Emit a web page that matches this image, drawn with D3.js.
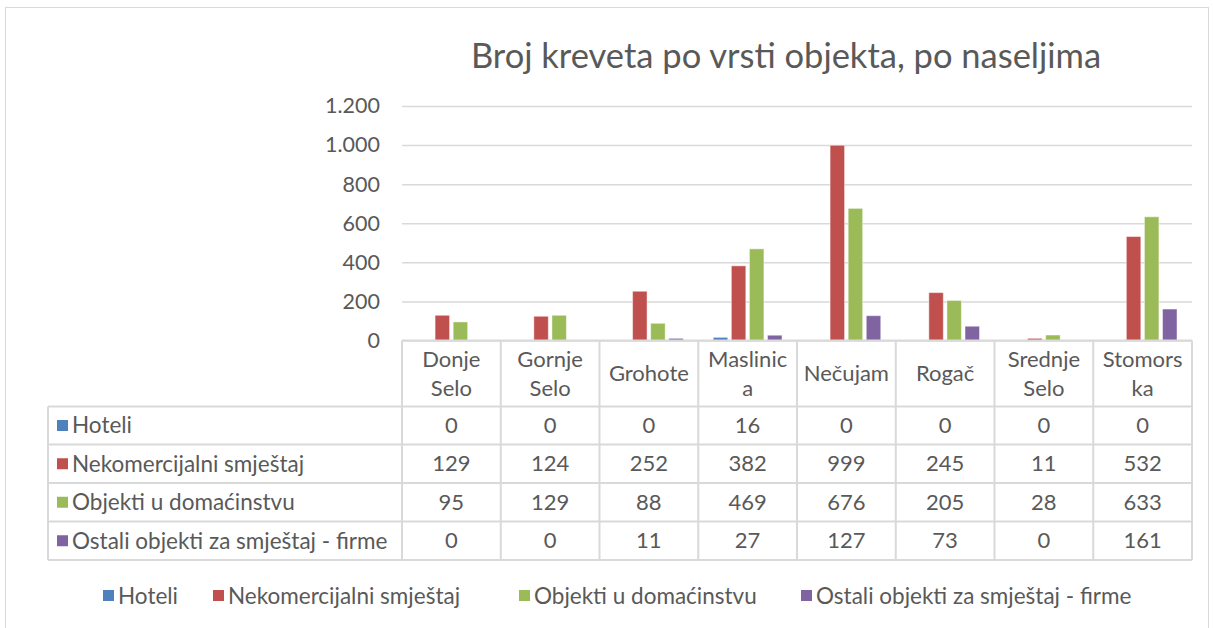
<!DOCTYPE html>
<html>
<head>
<meta charset="utf-8">
<script src="https://cdn.jsdelivr.net/npm/d3@7"></script>
<style>
  body { margin: 0; background: #fff; }
  svg text { font-family: Lato, "Open Sans", sans-serif; fill: #595959; }
</style>
</head>
<body>
<svg id="chart" width="1213" height="628"></svg>
<script>
// data
const categories = ['Donje Selo', 'Gornje Selo', 'Grohote', 'Maslinica', 'Nečujam', 'Rogač', 'Srednje Selo', 'Stomorska']
const headerLines = [['Donje', 'Selo'], ['Gornje', 'Selo'], ['Grohote'], ['Maslinic', 'a'], ['Nečujam'], ['Rogač'], ['Srednje', 'Selo'], ['Stomors', 'ka']]
const seriesNames = ['Hoteli', 'Nekomercijalni smještaj', 'Objekti u domaćinstvu', 'Ostali objekti za smještaj - firme']
const hoteli = [0, 0, 0, 16, 0, 0, 0, 0]
const nekomercijalni = [129, 124, 252, 382, 999, 245, 11, 532]
const objekti = [95, 129, 88, 469, 676, 205, 28, 633]
const ostali = [0, 0, 11, 27, 127, 73, 0, 161]
const yTicks = [0, 200, 400, 600, 800, 1000, 1200]

const values = [hoteli, nekomercijalni, objekti, ostali]
const colors = ['#4f81bd', '#c0504d', '#9bbb59', '#8064a2']

let svg = d3.select('#chart')

// outer frame
svg.append('rect')
.attr('x', 5.5).attr('y', 7.5)
.attr('width', 1203).attr('height', 640)
.attr('fill', 'none')
.attr('stroke', '#d9d9d9')

svg.append('text')
.attr('x', 786).attr('y', 68)
.attr('text-anchor', 'middle')
.style('font-size', '34.5px')
.text('Broj kreveta po vrsti objekta, po naseljima')

let plotLeft = 402, plotRight = 1192, plotTop = 106, plotBottom = 340.5

let x0 = d3.scaleBand().domain(categories).range([plotLeft, plotRight])
let x1 = d3.scaleBand().domain(seriesNames).range([15, x0.bandwidth() - 15]).paddingInner(0.2)
let y = d3.scaleLinear().domain([0, 1200]).range([plotBottom, plotTop])

// gridlines + y labels
let yaxis = svg.append('g')
.attr('class', 'yaxis')
.attr('transform', 'translate(' + plotLeft + ',0)')
.call(d3.axisLeft(y).tickValues(yTicks).tickSize(-(plotRight - plotLeft)).tickFormat(d => d3.format(',')(d).replace(',', '.')))

yaxis.select('.domain').remove()
yaxis.selectAll('line').attr('stroke', '#d9d9d9').attr('stroke-width', 1.5)
yaxis.selectAll('text')
.attr('x', -22)
.style('font-size', '21.5px')
.style('font-family', 'Lato, sans-serif')
.attr('fill', '#595959')

// bars
let g = svg.append('g')
values.forEach((vals, si) => {
	g.selectAll('.s' + si)
	.data(vals)
	.enter()
	.append('rect')
	.attr('class', 's' + si)
	.attr('x', (d, i) => x0(categories[i]) + x1(seriesNames[si]))
	.attr('y', d => y(d))
	.attr('width', x1.bandwidth())
	.attr('height', d => plotBottom - y(d))
	.attr('fill', colors[si])
	.attr('stroke', 'rgba(255,255,255,0.45)')
	.attr('stroke-width', 1)
})

// data table
let tableLeft = 48
let rowTop = [340.5, 406.5, 444.5, 483, 521.5, 560]
let lineColor = '#d9d9d9'
let t = svg.append('g')

// horizontal lines
t.append('line').attr('x1', plotLeft).attr('x2', plotRight).attr('y1', rowTop[0]).attr('y2', rowTop[0])
for (let r = 1; r < rowTop.length; r++) {
	t.append('line').attr('x1', tableLeft).attr('x2', plotRight).attr('y1', rowTop[r]).attr('y2', rowTop[r])
}
// vertical lines
t.append('line').attr('x1', tableLeft).attr('x2', tableLeft).attr('y1', rowTop[1]).attr('y2', rowTop[5])
categories.forEach(c => {
	t.append('line').attr('x1', x0(c)).attr('x2', x0(c)).attr('y1', rowTop[0]).attr('y2', rowTop[5])
})
t.append('line').attr('x1', plotRight).attr('x2', plotRight).attr('y1', rowTop[0]).attr('y2', rowTop[5])
t.selectAll('line').attr('stroke', lineColor).attr('stroke-width', 2)

// header
headerLines.forEach((lines, i) => {
	let cx = x0(categories[i]) + x0.bandwidth() / 2
	let mid = (rowTop[0] + rowTop[1]) / 2
	lines.forEach((l, j) => {
		t.append('text')
		.attr('x', cx)
		.attr('y', mid + (j - (lines.length - 1) / 2) * 29)
		.attr('dy', '0.35em')
		.attr('text-anchor', 'middle')
		.style('font-size', '22px')
		.text(l)
	})
})

// rows
values.forEach((vals, si) => {
	let cy = (rowTop[si + 1] + rowTop[si + 2]) / 2
	t.append('rect')
	.attr('x', 57).attr('y', cy - 5.5)
	.attr('width', 11).attr('height', 11)
	.attr('fill', colors[si])
	t.append('text')
	.attr('x', 72).attr('y', cy).attr('dy', '0.35em')
	.style('font-size', '22.5px')
	.text(seriesNames[si])
	vals.forEach((v, i) => {
		t.append('text')
		.attr('x', x0(categories[i]) + x0.bandwidth() / 2)
		.attr('y', cy).attr('dy', '0.35em')
		.attr('text-anchor', 'middle')
		.style('font-size', '22px')
		.text(v)
	})
})

// legend
let legendX = [103, 213, 519, 801]
let legend = svg.append('g')
seriesNames.forEach((s, i) => {
	legend.append('rect')
	.attr('x', legendX[i]).attr('y', 590)
	.attr('width', 11).attr('height', 11)
	.attr('fill', colors[i])
	legend.append('text')
	.attr('x', legendX[i] + 15).attr('y', 596).attr('dy', '0.35em')
	.style('font-size', '22.5px')
	.text(s)
})
</script>
</body>
</html>
